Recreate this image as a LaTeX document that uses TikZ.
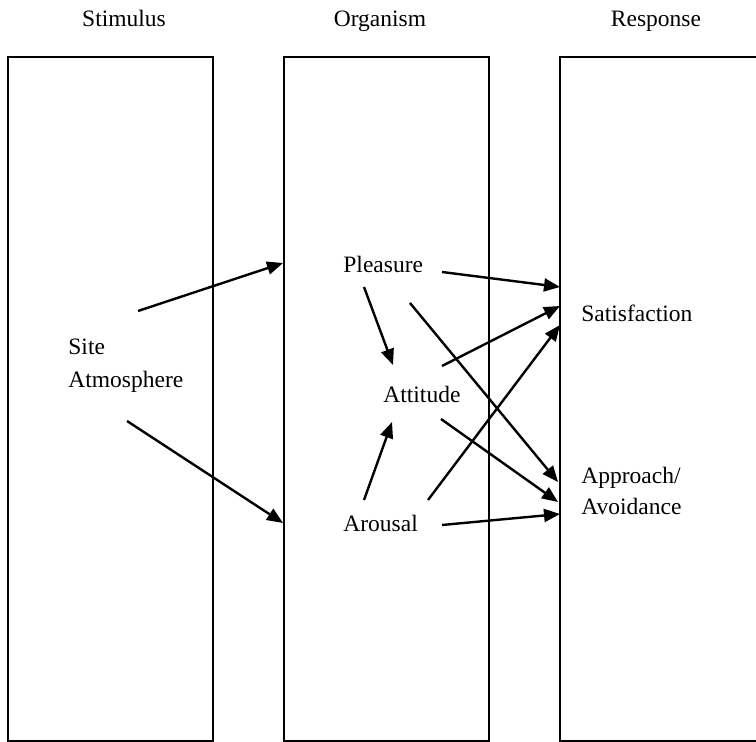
\documentclass[tikz,border=0pt]{standalone}
\usepackage{fontspec}
\setmainfont{Liberation Serif}
\usetikzlibrary{arrows.meta}

\tikzset{
	lbl/.style={anchor=base west, inner sep=0pt, font=\fontsize{11.75}{14}\selectfont},
	ttl/.style={anchor=base, inner sep=0pt, font=\fontsize{11.75}{14}\selectfont},
	col/.style={line width=1pt},
	arr/.style={line width=1.2pt, -{Triangle[length=8pt,width=6.5pt]}}
}

\begin{document}
\begin{tikzpicture}[x=0.5pt, y=-0.5pt]
		%%%%% START %%%%%
		\useasboundingbox (0, 0) rectangle (756, 742);
		
		% columns
		\draw[col] (8, 57) rectangle (213, 741);
		\draw[col] (284, 57) rectangle (489, 741);
		\draw[col] (760, 57) -- (560, 57) -- (560, 741) -- (760, 741);
		
		% headings
		\node[ttl] (stim) at (124, 27) {Stimulus};
		\node[ttl] (org) at (380, 27) {Organism};
		\node[ttl] (resp) at (656, 27) {Response};
		
		% labels
		\node[lbl] (site) at (68, 355) {Site};
		\node[lbl] (atmos) at (68, 388) {Atmosphere};
		\node[lbl] (pleasure) at (343, 273) {Pleasure};
		\node[lbl] (attitude) at (383, 403) {Attitude};
		\node[lbl] (arousal) at (343, 532) {Arousal};
		\node[lbl] (satisf) at (581, 322) {Satisfaction};
		\node[lbl] (approach) at (581, 484) {Approach/};
		\node[lbl] (avoid) at (581, 515) {Avoidance};
		
		% arrow ends
		\coordinate (s-a) at (138, 311);
		\coordinate (s-b) at (127, 421);
		\coordinate (o-a) at (283, 263);
		\coordinate (o-b) at (283, 523);
		\coordinate (pl-a) at (364, 287);
		\coordinate (pl-b) at (442, 272);
		\coordinate (pl-c) at (410, 303);
		\coordinate (at-in) at (393, 365);
		\coordinate (at-in2) at (392, 422);
		\coordinate (at-a) at (442, 366);
		\coordinate (at-b) at (441, 419);
		\coordinate (ar-a) at (364, 500);
		\coordinate (ar-b) at (428, 500);
		\coordinate (ar-c) at (442, 525);
		\coordinate (sa-a) at (560, 287);
		\coordinate (sa-b) at (560, 306);
		\coordinate (sa-c) at (560, 325);
		\coordinate (av-a) at (558, 482);
		\coordinate (av-b) at (558, 502);
		\coordinate (av-c) at (560, 514);
		
		% stimulus -> organism
		\draw[arr] (s-a) -- (o-a);
		\draw[arr] (s-b) -- (o-b);
		
		% inside organism
		\draw[arr] (pl-a) -- (at-in);
		\draw[arr] (ar-a) -- (at-in2);
		
		% organism -> response
		\draw[arr] (pl-b) -- (sa-a);
		\draw[arr] (at-a) -- (sa-b);
		\draw[arr] (ar-b) -- (sa-c);
		\draw[arr] (pl-c) -- (av-a);
		\draw[arr] (at-b) -- (av-b);
		\draw[arr] (ar-c) -- (av-c);
		
		%%%%% END %%%%%
	\end{tikzpicture}
\end{document}
